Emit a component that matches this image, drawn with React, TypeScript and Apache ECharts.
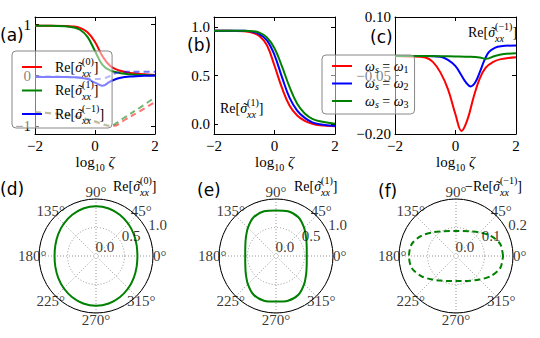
import React, { useEffect, useRef } from 'react';
import * as echarts from 'echarts';

const SERIF = 'Liberation Serif';
const SANS = 'DejaVu Sans';
const RED = '#ff0000';
const GREEN = '#008000';
const BLUE = '#0000ff';

// ---------- tick labels ----------
const xTicks = [-2, 0, 2];
const aYTicks = [-1, 0, 1];
const bYTicks = [0, 0.5, 1];
const cYTicks = [-0.2, -0.05, 0.1];
const angleTicks = [0, 45, 90, 135, 180, 225, 270, 315];
const dRadTicks = [0, 0.5, 1.0];
const eRadTicks = [0, 0.5, 1.0];
const fRadTicks = [0, 0.1, 0.2];

// ---------- panel (a) ----------
const aX = [-2, -1.5, -1, -0.75, -0.5, -0.25, 0, 0.25, 0.5, 0.75, 1, 1.25, 1.5, 1.75, 2];
const aRe0 = [0.98, 0.98, 0.975, 0.965, 0.935, 0.85, 0.66, 0.38, 0.19, 0.11, 0.07, 0.045, 0.03, 0.018, 0.01];
const aRe1 = [0.98, 0.98, 0.97, 0.95, 0.9, 0.76, 0.48, 0.21, 0.1, 0.06, 0.035, 0.02, 0.012, 0.006, 0];
const aReM1 = [-0.03, -0.03, -0.03, -0.035, -0.045, -0.07, -0.14, -0.2, -0.12, -0.06, -0.03, -0.018, -0.01, -0.005, 0];
const aImX = [-2, -1.5, -1, -0.5, 0, 0.25, 0.5, 0.65, 0.85, 1, 1.5, 2];
const aIm0 = [-0.72, -0.74, -0.77, -0.83, -0.91, -0.96, -0.99, -0.99, -0.93, -0.87, -0.7, -0.52];
const aIm1 = [-0.72, -0.74, -0.77, -0.82, -0.9, -0.95, -0.99, -0.96, -0.88, -0.82, -0.63, -0.43];
const aImM1 = [-0.02, -0.02, -0.025, -0.04, -0.07, -0.06, -0.01, 0.04, 0.065, 0.072, 0.075, 0.075];

// ---------- panel (b) ----------
const bX = [-2, -1.5, -1, -0.75, -0.5, -0.25, 0, 0.25, 0.5, 0.75, 1, 1.25, 1.5, 2];
const bW1 = [0.96, 0.96, 0.955, 0.94, 0.905, 0.81, 0.6, 0.37, 0.19, 0.09, 0.035, 0.005, -0.01, -0.02];
const bW2 = [0.96, 0.96, 0.958, 0.95, 0.925, 0.86, 0.71, 0.48, 0.27, 0.14, 0.065, 0.02, 0.0, -0.018];
const bW3 = [0.96, 0.96, 0.96, 0.955, 0.94, 0.89, 0.78, 0.59, 0.38, 0.21, 0.11, 0.055, 0.03, 0.005];

// ---------- panel (c) ----------
const cW1X = [-2, -1.5, -1, -0.75, -0.5, -0.25, 0, 0.2, 0.4, 0.6, 0.8, 1, 1.25, 1.5, 2];
const cW1 = [0, -0.001, -0.004, -0.015, -0.042, -0.085, -0.15, -0.192, -0.162, -0.105, -0.058, -0.03, -0.015, -0.008, -0.003];
const cW2X = [-2, -1, -0.5, -0.25, 0, 0.2, 0.35, 0.5, 0.65, 0.8, 0.95, 1.1, 1.3, 1.5, 2];
const cW2 = [0, 0, -0.002, -0.01, -0.026, -0.05, -0.068, -0.078, -0.068, -0.042, -0.012, 0.01, 0.021, 0.025, 0.027];
const cW3X = [-2, -1, 0, 0.5, 0.8, 1.0, 1.1, 1.3, 1.6, 2];
const cW3 = [0, 0, -0.001, -0.002, -0.004, -0.007, -0.006, 0.0, 0.005, 0.007];

// ---------- polar panels (d), (e), (f) ----------
const polarTheta = [0, 15, 30, 45, 60, 75, 90, 105, 120, 135, 150, 165, 180, 195, 210, 225, 240, 255, 270, 285, 300, 315, 330, 345, 360];
const dR = [0.727, 0.738, 0.765, 0.8, 0.834, 0.862, 0.872, 0.862, 0.834, 0.8, 0.765, 0.738, 0.727, 0.738, 0.765, 0.8, 0.834, 0.862, 0.872, 0.862, 0.834, 0.8, 0.765, 0.738, 0.727];
const eR = [0.54, 0.558, 0.612, 0.698, 0.786, 0.812, 0.8, 0.812, 0.786, 0.698, 0.612, 0.558, 0.54, 0.558, 0.612, 0.698, 0.786, 0.812, 0.8, 0.812, 0.786, 0.698, 0.612, 0.558, 0.54];
const fR = [0.165, 0.161, 0.141, 0.117, 0.1, 0.091, 0.088, 0.091, 0.1, 0.117, 0.141, 0.161, 0.165, 0.161, 0.141, 0.117, 0.1, 0.091, 0.088, 0.091, 0.1, 0.117, 0.141, 0.161, 0.165];

const LABEL_R = 1.12;
const RAD_LABEL_ANGLE = 22.5;

const minus = (s: string) => s.replace('-', '\u2212');
const wrap = (s: string) => `{n|${s}}`;
const fmt0 = (v: number) => wrap(minus(String(Math.round(v))));
const fmt1 = (v: number) => wrap(minus(v.toFixed(1)));
const fmt2 = (v: number) => wrap(minus(v.toFixed(2)));

function rich(size: number, lh: number, padFirst = 0) {
  const sub = Math.round(size * 0.68);
  const base: any = { fontFamily: SERIF, fontSize: size, lineHeight: lh, verticalAlign: 'middle', color: '#000', fill: '#000' };
  const sl = Math.round(lh * 0.55);
  return {
    n: { ...base },
    p: { ...base, padding: [0, 0, 0, padFirst] },
    i: { ...base, fontStyle: 'italic' },
    pi: { ...base, fontStyle: 'italic', padding: [0, 0, 0, padFirst] },
    tl: { ...base, width: 0, padding: [0, -3, 0, 3] },
    b: { ...base, fontStyle: 'italic', fontSize: sub, lineHeight: sl, verticalAlign: 'bottom' },
    bz: { ...base, fontStyle: 'italic', fontSize: sub, lineHeight: sl, verticalAlign: 'bottom', width: 0 },
    bn: { ...base, fontSize: sub, lineHeight: Math.round(lh * 0.62), verticalAlign: 'bottom' },
    t: { ...base, fontSize: sub, lineHeight: sl, verticalAlign: 'top' },
  };
}

const tickRich = rich(15, 16);

const sig = (k: string, first = 'n', prefix = '') => `{${first}|${prefix}Re[}{tl|\u02DC}{i|σ}{bz|xx}{t|(${k})}{n|]}`;
const omega = (k: string) => `{pi|ω}{b|s}{n| = }{i|ω}{bn|${k}}`;

const legendText: Record<string, string> = {
  s0: sig('0', 'p'),
  s1: sig('1', 'p'),
  sm1: sig('\u22121', 'p'),
  w1: omega('1'),
  w2: omega('2'),
  w3: omega('3'),
};

const pairs = (xs: number[], ys: number[]) => xs.map((x, i) => [x, ys[i]]);
const polarPairs = (rs: number[]) => rs.map((r, i) => [r, polarTheta[i]]);

const axisLineStyle = { color: '#000', width: 1 };

function xAxes(gi: number) {
  const common: any = {
    type: 'value', gridIndex: gi, min: -2, max: 2, interval: 2,
    axisLine: { show: true, onZero: false, lineStyle: axisLineStyle },
    axisTick: { show: true, inside: true, length: 4, customValues: xTicks, lineStyle: axisLineStyle },
    splitLine: { show: false },
  };
  return [
    {
      ...common, position: 'bottom',
      axisLabel: { show: true, customValues: xTicks, margin: 4, fontFamily: SERIF, fontSize: 15, color: '#000', formatter: fmt0, rich: tickRich },
      name: '{n|log}{bn|10}{i| ζ}', nameLocation: 'middle', nameGap: 12,
      nameTextStyle: { fontFamily: SERIF, rich: rich(15, 22) },
    },
    { ...common, position: 'top', axisLabel: { show: false } },
  ];
}

function yAxes(gi: number, min: number, max: number, ticks: number[], fmt: (v: number) => string) {
  const common: any = {
    type: 'value', gridIndex: gi, min, max,
    axisLine: { show: true, onZero: false, lineStyle: axisLineStyle },
    axisTick: { show: true, inside: true, length: 4, customValues: ticks, lineStyle: axisLineStyle },
    splitLine: { show: false },
  };
  return [
    { ...common, position: 'left', axisLabel: { show: true, customValues: ticks, margin: 4, fontFamily: SERIF, fontSize: 15, color: '#000', formatter: fmt, rich: tickRich } },
    { ...common, position: 'right', axisLabel: { show: false } },
  ];
}

function lineSeries(name: string, gi: number, data: number[][], color: string, dashed = false): any {
  return {
    name, type: 'line', xAxisIndex: gi * 2, yAxisIndex: gi * 2, data,
    symbol: 'none', smooth: 0.4,
    itemStyle: { color },
    lineStyle: { color, width: 2, type: dashed ? [6, 4] : 'solid', opacity: dashed ? 0.55 : 1 },
    z: 2,
  };
}

const polarCenters = [[96, 256], [276, 256], [456, 256]];
const polarMax = [1.0, 1.0, 0.2];
const polarRadTicks = [dRadTicks, eRadTicks, fRadTicks];

function polarLabelSeries(pi: number): any[] {
  const rmax = polarMax[pi];
  const lab = { fontFamily: SERIF, fontSize: 15, color: '#000', rich: tickRich };
  return [
    {
      type: 'scatter', coordinateSystem: 'polar', polarIndex: pi, symbolSize: 1, silent: true, clip: false,
      itemStyle: { color: 'transparent' },
      data: angleTicks.map((a) => [rmax * LABEL_R, a]),
      label: { show: true, position: 'inside', formatter: (p: any) => wrap(`${p.value[1]}°`), ...lab },
      z: 5,
    },
    {
      type: 'scatter', coordinateSystem: 'polar', polarIndex: pi, symbolSize: 1, silent: true, clip: false,
      itemStyle: { color: 'transparent' },
      data: polarRadTicks[pi].map((r) => [r, RAD_LABEL_ANGLE]),
      label: { show: true, position: 'insideBottomLeft', distance: 0, offset: [0, -2], formatter: (p: any) => wrap(p.value[0].toFixed(1)), ...lab },
      z: 5,
    },
  ];
}

const gridDot = { color: '#999', type: [1, 2], width: 1 };

export default function App() {
  const ref = useRef<HTMLDivElement>(null);
  useEffect(() => {
    if (!ref.current) return;
    const chart = echarts.init(ref.current, undefined, { renderer: 'svg' });
    const richG = rich(14, 22);
    const panelLabel = (t: string, x: number, y: number) => ({
      type: 'text', x, y, z: 10, style: { text: t, fontFamily: SANS, fontSize: 17, fill: '#000', verticalAlign: 'middle' },
    });
    const annot = (t: string, x: number, y: number) => ({
      type: 'text', x, y, z: 10, style: { text: t, rich: richG, fontFamily: SERIF, verticalAlign: 'middle' },
    });
    const option: any = {
      animation: false,
      textStyle: { fontFamily: SERIF },
      grid: [
        { left: 35, top: 17, width: 120, height: 117 },
        { left: 214, top: 17, width: 121, height: 117 },
        { left: 395, top: 17, width: 121, height: 117 },
      ],
      xAxis: [...xAxes(0), ...xAxes(1), ...xAxes(2)],
      yAxis: [
        ...yAxes(0, -1.15, 1.15, aYTicks, fmt0),
        ...yAxes(1, -0.1, 1.1, bYTicks, fmt1),
        ...yAxes(2, -0.2, 0.1, cYTicks, fmt2),
      ],
      polar: polarCenters.map((c) => ({ center: c, radius: 57 })),
      angleAxis: polarCenters.map((_, i) => ({
        polarIndex: i, type: 'value', min: 0, max: 360, interval: 45, startAngle: 0, clockwise: false,
        axisLine: { show: true, lineStyle: axisLineStyle },
        axisTick: { show: false }, axisLabel: { show: false },
        splitLine: { show: true, lineStyle: gridDot },
      })),
      radiusAxis: polarCenters.map((_, i) => ({
        polarIndex: i, type: 'value', min: 0, max: polarMax[i], interval: polarMax[i] / 2,
        axisLine: { show: false }, axisTick: { show: false }, axisLabel: { show: false },
        splitLine: { show: true, lineStyle: gridDot },
      })),
      legend: [
        {
          orient: 'vertical', left: 12, top: 51, padding: [5, 8, 3, 10], itemGap: 1.5,
          itemWidth: 20, itemHeight: 2, icon: 'rect', itemStyle: { borderWidth: 0 },
          backgroundColor: 'rgba(255,255,255,0.5)', borderColor: '#888', borderWidth: 1, borderRadius: 4,
          data: ['s0', 's1', 'sm1'], selectedMode: false,
          formatter: (n: string) => legendText[n],
          textStyle: { fontFamily: SERIF, rich: rich(14, 22, 8) },
        },
        {
          orient: 'vertical', left: 322, top: 55, padding: [4, 6, 5, 10], itemGap: 2.5,
          itemWidth: 20, itemHeight: 2, icon: 'rect', itemStyle: { borderWidth: 0 },
          backgroundColor: 'rgba(255,255,255,0.5)', borderColor: '#888', borderWidth: 1, borderRadius: 4,
          data: ['w1', 'w2', 'w3'], selectedMode: false,
          formatter: (n: string) => legendText[n],
          textStyle: { fontFamily: SERIF, rich: rich(14, 16, 8) },
        },
      ],
      series: [
        lineSeries('s0', 0, pairs(aX, aRe0), RED),
        lineSeries('s1', 0, pairs(aX, aRe1), GREEN),
        lineSeries('sm1', 0, pairs(aX, aReM1), BLUE),
        lineSeries('i0', 0, pairs(aImX, aIm0), RED, true),
        lineSeries('i1', 0, pairs(aImX, aIm1), GREEN, true),
        lineSeries('im1', 0, pairs(aImX, aImM1), BLUE, true),
        lineSeries('b1', 1, pairs(bX, bW1), RED),
        lineSeries('b2', 1, pairs(bX, bW2), BLUE),
        lineSeries('b3', 1, pairs(bX, bW3), GREEN),
        lineSeries('w1', 2, pairs(cW1X, cW1), RED),
        lineSeries('w2', 2, pairs(cW2X, cW2), BLUE),
        lineSeries('w3', 2, pairs(cW3X, cW3), GREEN),
        ...[dR, eR, fR].map((rs, i) => ({
          type: 'line', coordinateSystem: 'polar', polarIndex: i, data: polarPairs(rs),
          symbol: 'none', smooth: 0.3,
          lineStyle: { color: GREEN, width: 2, type: i === 2 ? [6, 3.5] : 'solid' },
          itemStyle: { color: GREEN }, z: 3,
        })),
        ...polarLabelSeries(0), ...polarLabelSeries(1), ...polarLabelSeries(2),
      ],
      graphic: [
        panelLabel('(a)', 0, 35),
        panelLabel('(b)', 187, 45),
        panelLabel('(c)', 370, 37),
        panelLabel('(d)', 0, 189),
        panelLabel('(e)', 197, 190),
        panelLabel('(f)', 378, 191),
        annot(sig('1'), 220, 108),
        annot(sig('\u22121'), 468, 32),
        annot(sig('0'), 113, 186),
        annot(sig('1'), 294, 186),
        annot(sig('\u22121', 'n', '\u2212'), 465, 186),
      ],
    };
    chart.setOption(option);
    return () => chart.dispose();
  }, []);
  return <div ref={ref} style={{ position: 'absolute', left: 0, top: 0, width: 540, height: 338 }} />;
}
